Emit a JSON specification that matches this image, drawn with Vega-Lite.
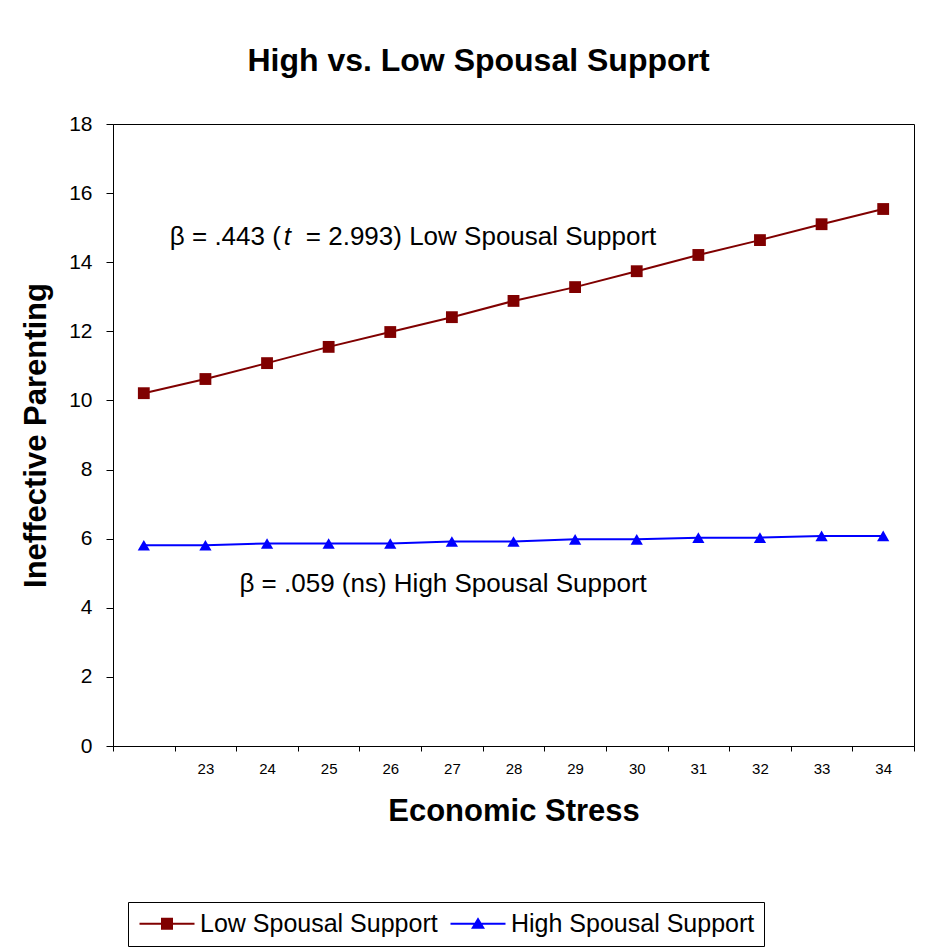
{
  "$schema": "https://vega.github.io/schema/vega-lite/v6.json",
  "width": 801,
  "height": 622,
  "autosize": {"type": "none"},
  "padding": {"left": 113, "top": 124, "right": 14, "bottom": 203},
  "background": "white",
  "config": {
    "font": "Liberation Sans",
    "view": {"stroke": "black", "strokeWidth": 1},
    "axis": {"domainColor": "black", "tickColor": "black", "labelColor": "black", "titleColor": "black", "grid": false, "labelFont": "Liberation Sans", "titleFont": "Liberation Sans"}
  },
  "title": {"text": "High vs. Low Spousal Support", "fontSize": 32, "font": "Liberation Sans", "fontWeight": "bold", "color": "black", "anchor": "middle", "dx": -35, "offset": 10, "baseline": "alphabetic"},
  "datasets": {
    "series": [
      {"stress": 22, "series": "Low Spousal Support", "parenting": 10.21},
      {"stress": 23, "series": "Low Spousal Support", "parenting": 10.62},
      {"stress": 24, "series": "Low Spousal Support", "parenting": 11.08},
      {"stress": 25, "series": "Low Spousal Support", "parenting": 11.55},
      {"stress": 26, "series": "Low Spousal Support", "parenting": 11.98},
      {"stress": 27, "series": "Low Spousal Support", "parenting": 12.41},
      {"stress": 28, "series": "Low Spousal Support", "parenting": 12.88},
      {"stress": 29, "series": "Low Spousal Support", "parenting": 13.28},
      {"stress": 30, "series": "Low Spousal Support", "parenting": 13.74},
      {"stress": 31, "series": "Low Spousal Support", "parenting": 14.21},
      {"stress": 32, "series": "Low Spousal Support", "parenting": 14.64},
      {"stress": 33, "series": "Low Spousal Support", "parenting": 15.1},
      {"stress": 34, "series": "Low Spousal Support", "parenting": 15.54},
      {"stress": 22, "series": "High Spousal Support", "parenting": 5.81},
      {"stress": 23, "series": "High Spousal Support", "parenting": 5.81},
      {"stress": 24, "series": "High Spousal Support", "parenting": 5.86},
      {"stress": 25, "series": "High Spousal Support", "parenting": 5.86},
      {"stress": 26, "series": "High Spousal Support", "parenting": 5.86},
      {"stress": 27, "series": "High Spousal Support", "parenting": 5.92},
      {"stress": 28, "series": "High Spousal Support", "parenting": 5.92},
      {"stress": 29, "series": "High Spousal Support", "parenting": 5.98},
      {"stress": 30, "series": "High Spousal Support", "parenting": 5.98},
      {"stress": 31, "series": "High Spousal Support", "parenting": 6.03},
      {"stress": 32, "series": "High Spousal Support", "parenting": 6.03},
      {"stress": 33, "series": "High Spousal Support", "parenting": 6.08},
      {"stress": 34, "series": "High Spousal Support", "parenting": 6.08}
    ]
  },
  "data": {"name": "series"},
  "encoding": {
    "x": {
      "field": "stress", "type": "ordinal",
      "scale": {"type": "band", "domain": [22, 23, 24, 25, 26, 27, 28, 29, 30, 31, 32, 33, 34], "paddingInner": 0, "paddingOuter": 0},
      "axis": {"title": "Economic Stress", "titleFontSize": 31, "titleFontWeight": "bold", "titlePadding": 20, "labelFontSize": 15, "labelAngle": 0, "tickBand": "extent", "tickSize": 5, "labelPadding": 10, "labelExpr": "datum.value == 22 ? '' : datum.label"}
    },
    "y": {
      "field": "parenting", "type": "quantitative",
      "scale": {"domain": [0, 18], "nice": false},
      "axis": {"title": "Ineffective Parenting", "titleFontSize": 31, "titleFontWeight": "bold", "titlePadding": 16, "labelFontSize": 21, "tickSize": 7, "labelPadding": 14, "values": [0, 2, 4, 6, 8, 10, 12, 14, 16, 18]}
    }
  },
  "layer": [
    {
      "mark": {"type": "line", "strokeWidth": 2},
      "encoding": {
        "color": {
          "field": "series", "type": "nominal",
          "scale": {"domain": ["Low Spousal Support", "High Spousal Support"], "range": ["#800000", "#0000ff"]},
          "legend": {
            "title": null, "orient": "none", "legendX": 15, "legendY": 778, "direction": "horizontal",
            "strokeColor": "black", "fillColor": "white", "padding": 9,
            "labelFontSize": 25, "labelFont": "Liberation Sans", "labelColor": "black", "labelLimit": 400,
            "symbolSize": 400, "columnPadding": 10, "labelOffset": 38, "symbolStrokeWidth": 0,
            "symbolType": "M-1,-0.1H4.5V0.1H-1Z",
            "encode": {
              "symbols": {
                "update": {
                  "shape": {"signal": "datum.value === 'Low Spousal Support' ? 'M-1,-0.1H4.5V0.1H-1Z M1.15,-0.6H2.35V0.6H1.15Z' : 'M-1,-0.1H4.5V0.1H-1Z M1.75,-0.65L2.45,0.5L1.05,0.5Z'"},
                  "fill": {"scale": "color", "field": "value"},
                  "fillOpacity": {"value": 1},
                  "strokeWidth": {"value": 0},
                  "opacity": {"value": 1}
                }
              }
            }
          }
        }
      }
    },
    {
      "transform": [{"filter": "datum.series === 'Low Spousal Support'"}],
      "mark": {"type": "point", "filled": true, "opacity": 1, "shape": "square", "size": 140},
      "encoding": {
        "color": {"field": "series", "type": "nominal"}
      }
    },
    {
      "transform": [{"filter": "datum.series === 'High Spousal Support'"}],
      "mark": {"type": "point", "filled": true, "opacity": 1, "shape": "triangle-up", "size": 150},
      "encoding": {
        "color": {"field": "series", "type": "nominal"}
      }
    },
    {
      "data": {"values": [{"stress": 22, "parenting": 14.5, "label": "β = .443 ("}]},
      "mark": {"type": "text", "align": "left", "baseline": "alphabetic", "fontSize": 26, "font": "Liberation Sans", "color": "black", "dx": 26},
      "encoding": {"text": {"field": "label"}}
    },
    {
      "data": {"values": [{"stress": 22, "parenting": 14.5, "label": "t"}]},
      "mark": {"type": "text", "align": "left", "baseline": "alphabetic", "fontSize": 26, "font": "Liberation Sans", "fontStyle": "italic", "color": "black", "dx": 140},
      "encoding": {"text": {"field": "label"}}
    },
    {
      "data": {"values": [{"stress": 22, "parenting": 14.5, "label": "= 2.993) Low Spousal Support"}]},
      "mark": {"type": "text", "align": "left", "baseline": "alphabetic", "fontSize": 26, "font": "Liberation Sans", "color": "black", "dx": 162},
      "encoding": {"text": {"field": "label"}}
    },
    {
      "data": {"values": [{"stress": 23, "parenting": 4.46, "label": "β = .059 (ns) High Spousal Support"}]},
      "mark": {"type": "text", "align": "left", "baseline": "alphabetic", "fontSize": 26, "font": "Liberation Sans", "color": "black", "dx": 34},
      "encoding": {"text": {"field": "label"}}
    }
  ]
}
